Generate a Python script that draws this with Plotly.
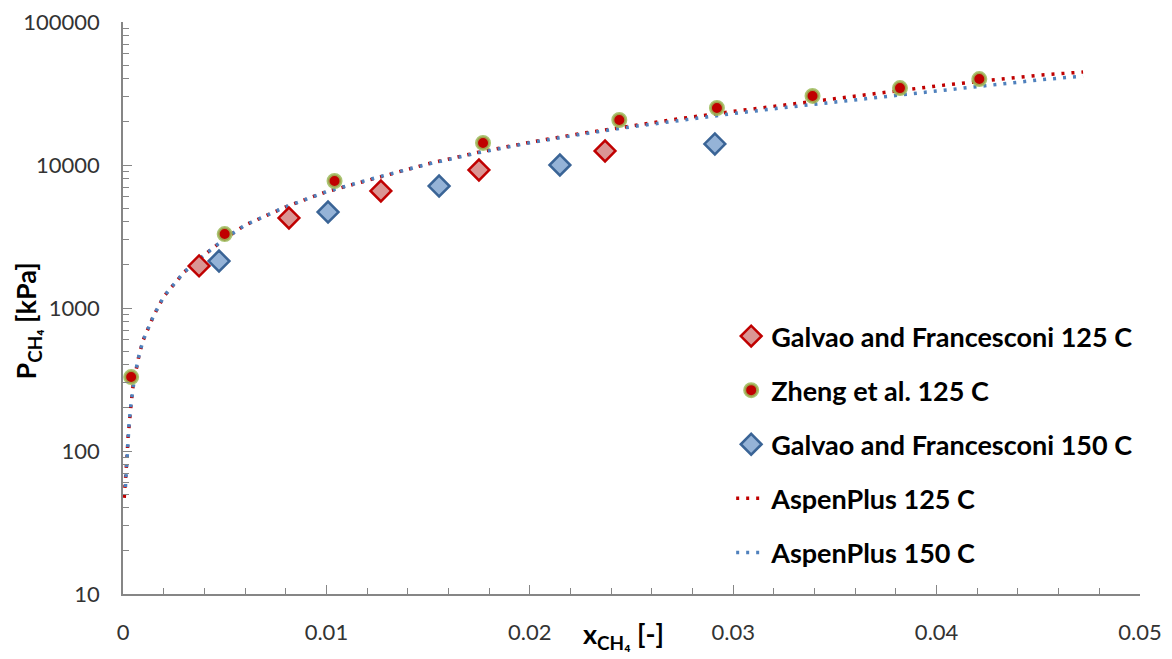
import plotly.graph_objects as go

# ---- data ----
galvao125_x = [0.00374, 0.00816, 0.01268, 0.0175, 0.0237]
galvao125_p = [1970, 4260, 6580, 9230, 12530]

zheng125_x = [0.0004, 0.0050, 0.0104, 0.0177, 0.0244, 0.0292, 0.0339, 0.0382, 0.0421]
zheng125_p = [329, 3290, 7730, 14260, 20650, 25050, 30400, 34500, 39900]

galvao150_x = [0.00472, 0.01008, 0.01554, 0.02148, 0.0291]
galvao150_p = [2130, 4690, 7130, 10000, 14030]

aspen125_x = [0.00006, 0.00015, 0.0002, 0.00025, 0.0003, 0.0004, 0.0005, 0.0006, 0.0007,
              0.0008, 0.0010, 0.0015, 0.0020, 0.0030, 0.0040, 0.0050, 0.0060, 0.0080,
              0.0100, 0.0125, 0.0150, 0.0175, 0.0200, 0.0225, 0.0250, 0.0275, 0.0300,
              0.0325, 0.0350, 0.0375, 0.0400, 0.0425, 0.0450, 0.0472]
aspen125_p = [47, 66, 92, 125, 155, 215, 290, 350, 405,
              477, 600, 880, 1200, 1780, 2350, 3050, 3800, 5100,
              6500, 8200, 10200, 12300, 14400, 16600, 18800, 21200, 23700,
              26300, 29100, 32400, 35700, 39000, 42400, 44700]

aspen150_x = [0.00012, 0.00015, 0.0002, 0.00025, 0.0003, 0.0004, 0.0005, 0.0006, 0.0007,
              0.0008, 0.0010, 0.0015, 0.0020, 0.0030, 0.0040, 0.0050, 0.0060, 0.0080,
              0.0100, 0.0125, 0.0150, 0.0175, 0.0200, 0.0225, 0.0250, 0.0275, 0.0300,
              0.0325, 0.0350, 0.0375, 0.0400, 0.0425, 0.0450, 0.0472]
aspen150_p = [56, 68, 94, 127, 157, 218, 292, 352, 407,
              478, 600, 880, 1200, 1780, 2350, 3050, 3800, 5100,
              6500, 8200, 10150, 12200, 14300, 16400, 18500, 20700, 22900,
              25200, 27600, 30200, 33000, 36000, 39300, 41900]

y_tickvals = [10, 100, 1000, 10000, 100000]
y_ticktext = ["10", "100", "1000", "10000", "100000"]
x_tickvals = [0, 0.01, 0.02, 0.03, 0.04, 0.05]
x_ticktext = ["0", "0.01", "0.02", "0.03", "0.04", "0.05"]
y_minor = [m * 10 ** e for e in range(1, 5) for m in range(2, 10)]

x_title = "x<sub>CH₄</sub> [-]"
y_title = "P<sub>CH₄</sub> [kPa]"

RED = "#C00000"
BLUE = "#4F81BD"

fig = go.Figure()
fig.add_trace(go.Scatter(
    x=aspen125_x, y=aspen125_p, mode="lines", name="AspenPlus 125 C",
    line=dict(color=RED, width=3.5, dash="3px,7px"), legendgroup="d", legendrank=4))
fig.add_trace(go.Scatter(
    x=aspen150_x, y=aspen150_p, mode="lines", name="AspenPlus 150 C",
    line=dict(color=BLUE, width=3.5, dash="3px,7px"), legendgroup="e", legendrank=5))
fig.add_trace(go.Scatter(
    x=galvao125_x, y=galvao125_p, mode="markers", name="Galvao and Francesconi 125 C",
    marker=dict(symbol="diamond", size=16, color="#DA9694",
                line=dict(color=RED, width=2.5)), legendgroup="a", legendrank=1))
fig.add_trace(go.Scatter(
    x=zheng125_x, y=zheng125_p, mode="markers", name="Zheng et al. 125 C",
    marker=dict(symbol="circle", size=13, color=RED,
                line=dict(color="rgba(155,187,89,0.85)", width=3)), legendgroup="b", legendrank=2))
fig.add_trace(go.Scatter(
    x=galvao150_x, y=galvao150_p, mode="markers", name="Galvao and Francesconi 150 C",
    marker=dict(symbol="diamond", size=16, color="#95B3D7",
                line=dict(color="#3A6496", width=2.5)), legendgroup="c", legendrank=3))

axis_common = dict(showgrid=False, zeroline=False, showline=True, linecolor="#868686",
                   linewidth=1.5, ticks="inside", ticklen=9, tickcolor="#868686",
                   tickwidth=1.2, automargin=False,
                   tickfont=dict(family="Lato", size=22, color="#333333"))

fig.update_xaxes(range=[0, 0.05], tickmode="array", tickvals=x_tickvals, ticktext=x_ticktext,
                 minor=dict(ticks="inside", ticklen=6, tickcolor="#868686", dtick=0.002, tick0=0),
                 ticklabelstandoff=18, **axis_common)
fig.update_yaxes(type="log", range=[1, 5], tickmode="array", tickvals=y_tickvals,
                 ticktext=y_ticktext,
                 minor=dict(ticks="inside", ticklen=6, tickcolor="#868686", tickvals=y_minor),
                 ticklabelstandoff=17, **axis_common)

title_font = dict(family="Lato", size=27, color="#000000", weight="bold")
fig.add_annotation(x=0.492, y=-0.072, xref="paper", yref="paper", text=x_title,
                   showarrow=False, xanchor="center", yanchor="middle", font=title_font)
fig.add_annotation(x=-0.094, y=0.477, xref="paper", yref="paper", text=y_title,
                   showarrow=False, xanchor="center", yanchor="middle", textangle=-90,
                   font=title_font)

fig.update_layout(
    width=1172, height=659,
    margin=dict(l=123, r=32, t=22, b=65),
    paper_bgcolor="white", plot_bgcolor="white",
    legend=dict(x=0.598, y=0.493, xanchor="left", yanchor="top",
                traceorder="grouped", tracegroupgap=16,
                font=dict(family="Lato", size=27, color="#000000", weight="bold"),
                bgcolor="rgba(0,0,0,0)"),
    showlegend=True,
)

fig.write_html("out.html")
